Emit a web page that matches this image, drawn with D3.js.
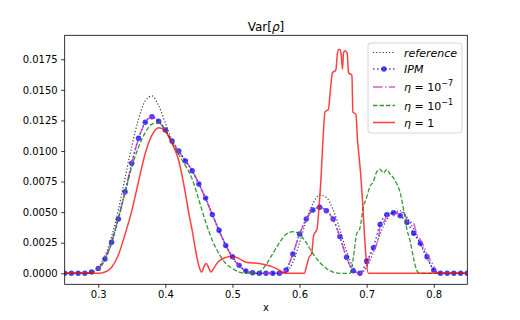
<!doctype html>
<html>
<head>
  <meta charset="utf-8">
  <title>Var[rho]</title>
  <script src="https://cdnjs.cloudflare.com/ajax/libs/d3/7.8.5/d3.min.js"></script>
  <style>
    body { margin: 0; background: #fff; }
    text { font-family: "DejaVu Sans", sans-serif; }
  </style>
</head>
<body>
<div id="chart"></div>
<script>
  // ---- data ----
  // grid used by reference and IPM (step 0.01)
  const xGrid = d3.range(61).map(i => +(0.25 + i * 0.01).toFixed(2));

  const reference = [
    0, 0, 0, 0, 0.0001, 0.0005, 0.0014, 0.003, 0.0052, 0.0078,
    0.0104, 0.0126, 0.0141, 0.0145, 0.0137, 0.0123, 0.0109, 0.0100, 0.0092, 0.0084,
    0.0073, 0.0061, 0.0048, 0.0035, 0.0023, 0.0013, 0.0006, 0.0002, 0, 0,
    0, 0, 0, 0.0001, 0.0009, 0.0025, 0.0043, 0.0057, 0.0064, 0.0062,
    0.0052, 0.0036, 0.0018, 0.0005, 0, 0.0005, 0.0017, 0.0032, 0.0044, 0.0050,
    0.0051, 0.0046, 0.0036, 0.0024, 0.0012, 0.0003, 0, 0, 0, 0, 0
  ];

  const ipm = [
    0, 0, 0, 0, 0.0001, 0.0004, 0.00117, 0.00254, 0.00444, 0.00667,
    0.0090, 0.01104, 0.01235, 0.0128, 0.01243, 0.01172, 0.01082, 0.0100, 0.00918, 0.00839,
    0.0073, 0.00615, 0.0048, 0.00352, 0.00227, 0.00135, 0.00065, 0.0002, 0.00005, 0,
    0, 0, 0, 0.00027, 0.00158, 0.00321, 0.00444, 0.00518, 0.0054, 0.00512,
    0.00444, 0.0030, 0.00131, 0.0002, 0, 0.00100, 0.0021, 0.0040, 0.0048, 0.00496,
    0.00471, 0.00417, 0.00327, 0.00245, 0.00136, 0.00027, 0, 0, 0, 0, 0
  ];

  // eta = 1e-7 : [x, value]
  const eta7 = [
    [0.25, 0], [0.28, 0], [0.29, 0.0001], [0.30, 0.0004], [0.31, 0.0012], [0.32, 0.0026],
    [0.33, 0.0045], [0.34, 0.0067], [0.35, 0.0090], [0.36, 0.0110], [0.37, 0.0123],
    [0.38, 0.0128], [0.39, 0.0124], [0.40, 0.0117], [0.41, 0.0108], [0.42, 0.0100],
    [0.43, 0.0092], [0.44, 0.0084], [0.45, 0.0073], [0.46, 0.0061], [0.47, 0.0048],
    [0.48, 0.0035], [0.49, 0.0023], [0.50, 0.0013], [0.51, 0.0006], [0.52, 0.0002],
    [0.53, 0], [0.575, 0], [0.58, 0.0003], [0.59, 0.0016], [0.60, 0.0032], [0.61, 0.0044],
    [0.62, 0.0052], [0.63, 0.0054], [0.64, 0.0051], [0.65, 0.0044], [0.66, 0.0030],
    [0.67, 0.0013], [0.68, 0.0002], [0.69, 0], [0.6975, 0.0004], [0.7025, 0.0010],
    [0.706, 0.0017], [0.709, 0.0018], [0.713, 0.0021], [0.7175, 0.0029], [0.7215, 0.0041],
    [0.726, 0.0042], [0.7305, 0.0048], [0.7365, 0.0049], [0.740, 0.0047], [0.744, 0.0050],
    [0.749, 0.0048], [0.7535, 0.0050], [0.7565, 0.0049], [0.7615, 0.0042], [0.769, 0.0042],
    [0.774, 0.0033], [0.7815, 0.0026], [0.786, 0.0021], [0.791, 0.0014], [0.796, 0.0010],
    [0.8015, 0.0004], [0.806, 0], [0.85, 0]
  ];

  // eta = 1e-1 : [x, value]
  const eta1e1 = [
    [0.25, 0], [0.28, 0], [0.29, 0.00005], [0.30, 0.0003], [0.31, 0.0011], [0.32, 0.0025],
    [0.33, 0.0045], [0.34, 0.0066], [0.35, 0.0087], [0.36, 0.0103], [0.37, 0.0115],
    [0.38, 0.0122], [0.39, 0.0123], [0.40, 0.0117], [0.41, 0.0107], [0.42, 0.0097],
    [0.43, 0.0088], [0.44, 0.0077], [0.45, 0.0060], [0.46, 0.0042], [0.47, 0.0027],
    [0.48, 0.0016], [0.49, 0.0008], [0.50, 0.0004], [0.51, 0.0001], [0.52, 0], [0.53, 0],
    [0.54, 0.0001], [0.55, 0.0007], [0.56, 0.0016], [0.57, 0.0025], [0.58, 0.0032],
    [0.59, 0.0034], [0.60, 0.0032], [0.61, 0.0025], [0.62, 0.0016], [0.63, 0.0009],
    [0.64, 0.0004], [0.65, 0.0001], [0.66, 0], [0.675, 0], [0.68, 0.0012], [0.685, 0.0032],
    [0.69, 0.0037], [0.695, 0.0054], [0.70, 0.0062], [0.705, 0.0071], [0.71, 0.0075],
    [0.715, 0.0083], [0.72, 0.0085], [0.725, 0.0082], [0.73, 0.0085], [0.735, 0.0081],
    [0.74, 0.0078], [0.745, 0.0073], [0.75, 0.0066], [0.755, 0.0052], [0.76, 0.0036],
    [0.765, 0.0026], [0.77, 0.0012], [0.775, 0.0002], [0.78, 0], [0.85, 0]
  ];

  // eta = 1 : [x, value]
  const eta1 = [
    [0.25, 0], [0.30, 0], [0.31, 0.0001], [0.32, 0.0005], [0.33, 0.0015], [0.34, 0.0032],
    [0.35, 0.0051], [0.36, 0.0075], [0.37, 0.0098], [0.38, 0.0113], [0.39, 0.0119],
    [0.40, 0.0116], [0.41, 0.0106], [0.42, 0.0092], [0.43, 0.0065], [0.435, 0.0049],
    [0.44, 0.0035], [0.445, 0.0019], [0.45, 0.0006], [0.454, 0.0001], [0.458, 0.0006],
    [0.461, 0.0008], [0.465, 0.0004], [0.468, 0.0001], [0.472, 0.0004], [0.478, 0.0009],
    [0.49, 0.0013], [0.50, 0.0014], [0.51, 0.0012], [0.52, 0.0009], [0.54, 0.0008],
    [0.556, 0.0006], [0.565, 0.0004], [0.575, 0.0001], [0.58, 0], [0.607, 0],
    [0.611, 0.0007], [0.614, 0.0013], [0.618, 0.0016], [0.621, 0.0031], [0.626, 0.0036],
    [0.629, 0.0054], [0.632, 0.0078], [0.635, 0.0110], [0.638, 0.0132], [0.643, 0.0134],
    [0.646, 0.0150], [0.649, 0.0164], [0.654, 0.0166], [0.6565, 0.0180], [0.6585, 0.0183],
    [0.6605, 0.0183], [0.662, 0.0179], [0.664, 0.0167], [0.6655, 0.0180], [0.6675, 0.0182],
    [0.671, 0.0180], [0.673, 0.0164], [0.678, 0.0162], [0.6795, 0.0132], [0.684, 0.0130],
    [0.6865, 0.0108], [0.689, 0.0094], [0.6915, 0.0078], [0.694, 0.0058], [0.6965, 0.0034],
    [0.699, 0.0014], [0.7025, 0], [0.85, 0]
  ];

  const xTicks = [0.3, 0.4, 0.5, 0.6, 0.7, 0.8];
  const yTicks = [0, 0.0025, 0.005, 0.0075, 0.01, 0.0125, 0.015, 0.0175];

  // ---- layout ----
  const W = 520, H = 320;
  const x = d3.scaleLinear().domain([0.25, 0.85]).range([64.7, 467.3]);
  const y = d3.scaleLinear().domain([-0.0009, 0.01946]).range([284.3, 35.3]);

  const svg = d3.select('#chart').append('svg')
    .attr('width', W).attr('height', H);

  svg.append('clipPath').attr('id', 'plot-clip')
    .append('rect')
    .attr('x', x.range()[0]).attr('y', y.range()[1])
    .attr('width', x.range()[1] - x.range()[0])
    .attr('height', y.range()[0] - y.range()[1]);

  const plot = svg.append('g').attr('clip-path', 'url(#plot-clip)');

  const line = d3.line()
    .x(d => x(d[0]))
    .y(d => y(d[1]))
    .curve(d3.curveMonotoneX);

  const refPts = xGrid.map((v, i) => [v, reference[i]]);
  const ipmPts = xGrid.map((v, i) => [v, ipm[i]]);

  const series = [
    { data: refPts, color: '#222', width: 1.2, dash: '1.2,2', opacity: 0.9 },
    { data: ipmPts, color: 'blue', width: 1.5, dash: '1.5,2.5', opacity: 0.75, marker: true },
    { data: eta7, color: '#cc33cc', width: 1.5, dash: '9.6,2.4,1.5,2.4', opacity: 0.8 },
    { data: eta1e1, color: '#118811', width: 1.3, dash: '4.5,2', opacity: 0.85 },
    { data: eta1, color: 'red', width: 1.5, dash: null, opacity: 0.75 }
  ];

  series.forEach(s => {
    plot.append('path')
      .datum(s.data)
      .attr('d', line)
      .attr('fill', 'none')
      .attr('stroke', s.color)
      .attr('stroke-width', s.width)
      .attr('stroke-dasharray', s.dash)
      .attr('stroke-opacity', s.opacity);
    if (s.marker) {
      plot.selectAll('circle.ipm')
        .data(s.data)
        .join('circle')
        .attr('class', 'ipm')
        .attr('cx', d => x(d[0]))
        .attr('cy', d => y(d[1]))
        .attr('r', 2.7)
        .attr('fill', s.color)
        .attr('fill-opacity', s.opacity);
    }
  });

  // ---- axes ----
  const xAxis = svg.append('g')
    .attr('transform', `translate(0,${y.range()[0]})`)
    .call(d3.axisBottom(x).tickValues(xTicks).tickFormat(d3.format('.1f'))
      .tickSize(3.5).tickPadding(3.5).tickSizeOuter(0));
  const yAxis = svg.append('g')
    .attr('transform', `translate(${x.range()[0]},0)`)
    .call(d3.axisLeft(y).tickValues(yTicks).tickFormat(d3.format('.4f'))
      .tickSize(3.5).tickPadding(3.5).tickSizeOuter(0));
  [xAxis, yAxis].forEach(a => {
    a.select('.domain').remove();
    a.selectAll('line').attr('stroke', '#000').attr('stroke-width', 0.8);
    a.selectAll('text').attr('font-size', 10).attr('fill', '#000')
      .attr('font-family', '"DejaVu Sans", sans-serif');
  });

  // frame
  svg.append('rect')
    .attr('x', x.range()[0]).attr('y', y.range()[1])
    .attr('width', x.range()[1] - x.range()[0])
    .attr('height', y.range()[0] - y.range()[1])
    .attr('fill', 'none').attr('stroke', '#000').attr('stroke-width', 0.8);

  // title and x label
  const title = svg.append('text')
    .attr('x', (x.range()[0] + x.range()[1]) / 2).attr('y', 31)
    .attr('text-anchor', 'middle').attr('font-size', 12);
  title.append('tspan').text('Var[');
  title.append('tspan').attr('font-style', 'italic').text('ρ');
  title.append('tspan').text(']');

  svg.append('text')
    .attr('x', (x.range()[0] + x.range()[1]) / 2).attr('y', 311)
    .attr('text-anchor', 'middle').attr('font-size', 10).text('x');

  // ---- legend ----
  const legend = svg.append('g');
  legend.append('rect')
    .attr('x', 368).attr('y', 43).attr('width', 94).attr('height', 90)
    .attr('rx', 3)
    .attr('fill', '#fff').attr('fill-opacity', 0.8)
    .attr('stroke', '#ccc').attr('stroke-width', 0.8);

  const legendRows = [52.5, 69, 87, 105.5, 122.5];
  const legendLabels = [
    [{ t: 'reference', it: true }],
    [{ t: 'IPM', it: true }],
    [{ t: 'η', it: true }, { t: ' = 10' }, { t: '−7', sup: true }],
    [{ t: 'η', it: true }, { t: ' = 10' }, { t: '−1', sup: true }],
    [{ t: 'η', it: true }, { t: ' = 1' }]
  ];

  series.forEach((s, i) => {
    const g = legend.append('g').attr('transform', `translate(0,${legendRows[i]})`);
    g.append('line')
      .attr('x1', 373).attr('x2', 395).attr('y1', 0).attr('y2', 0)
      .attr('stroke', s.color).attr('stroke-width', s.width)
      .attr('stroke-dasharray', s.dash).attr('stroke-opacity', s.opacity);
    if (s.marker) {
      g.append('circle').attr('cx', 384).attr('cy', 0).attr('r', 2.7)
        .attr('fill', s.color).attr('fill-opacity', s.opacity);
    }
    const t = g.append('text').attr('x', 404).attr('y', 4).attr('font-size', 11);
    legendLabels[i].forEach(p => {
      const sp = t.append('tspan').text(p.t);
      if (p.it) sp.attr('font-style', 'italic');
      if (p.sup) sp.attr('font-size', 8).attr('dy', -5);
    });
  });
</script>
</body>
</html>
